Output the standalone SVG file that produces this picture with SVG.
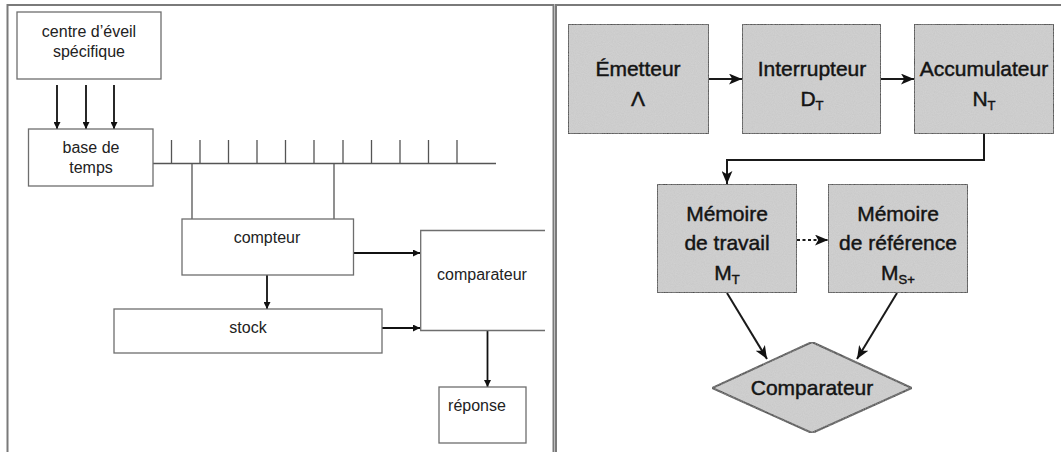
<svg xmlns="http://www.w3.org/2000/svg" width="1061" height="452" viewBox="0 0 1061 452">
<style>
.frame{fill:none;stroke:#7a7a7a;stroke-width:2}
.lbox{fill:#fff;stroke:#6e6e6e;stroke-width:1.3}
.lt{font-family:"Liberation Sans",Arial,sans-serif;font-size:16px;fill:#222;text-anchor:middle}
.ln{fill:none;stroke:#555;stroke-width:1.3}
.la{fill:none;stroke:#111;stroke-width:1.8}
.rbox{fill:#c8c8c8;stroke:#2a2a2a;stroke-width:2}
.rt{font-family:"Liberation Sans",Arial,sans-serif;font-size:21px;fill:#141414;stroke:#141414;stroke-width:0.45;text-anchor:middle}
.sub{font-size:13px}
.ra{fill:none;stroke:#1a1a1a;stroke-width:2}
</style>
<defs>
<marker id="ah" viewBox="0 0 10 10" refX="10" refY="5" markerWidth="7" markerHeight="7" orient="auto" markerUnits="userSpaceOnUse">
<path d="M0,0 L10,5 L0,10 z" fill="#111"/>
</marker>
<marker id="ahr" viewBox="0 0 12 10" refX="12" refY="5" markerWidth="13" markerHeight="11" orient="auto" markerUnits="userSpaceOnUse">
<path d="M0,0 L12,5 L0,10 L3,5 z" fill="#111"/>
</marker>
<filter id="grain" x="0" y="0" width="100%" height="100%">
<feTurbulence type="fractalNoise" baseFrequency="0.9" numOctaves="2" seed="3" result="n"/>
<feColorMatrix in="n" type="matrix" values="0 0 0 0 0.78  0 0 0 0 0.78  0 0 0 0 0.78  0 0 0 0.35 0" result="g"/>
<feComposite in="g" in2="SourceGraphic" operator="in" result="gi"/>
<feMerge><feMergeNode in="SourceGraphic"/><feMergeNode in="gi"/></feMerge>
</filter>
</defs>
<rect width="1061" height="452" fill="#fff"/>
<g id="frames">
<path class="frame" d="M7.5,453 V5 H553.5 V453"/>
<path class="frame" d="M556,453 V5 H1061"/>
</g>
<g id="connectors">
<line class="la" x1="57" y1="85" x2="57" y2="129" marker-end="url(#ah)"/>
<line class="la" x1="86" y1="85" x2="86" y2="129" marker-end="url(#ah)"/>
<line class="la" x1="114" y1="85" x2="114" y2="129" marker-end="url(#ah)"/>
<path class="ln" d="M153,163.5 H496 M171.5,140 V163.5 M200,140 V163.5 M228.5,140 V163.5 M257,140 V163.5 M285.5,140 V163.5 M314,140 V163.5 M343,140 V163.5 M371.5,140 V163.5 M400,140 V163.5 M428.5,140 V163.5 M457,140 V163.5 M192,163.5 V219 M334,163.5 V219"/>
<line class="la" x1="354" y1="253" x2="420" y2="253" marker-end="url(#ah)"/>
<line class="la" x1="267" y1="275" x2="267" y2="309" marker-end="url(#ah)"/>
<line class="la" x1="382" y1="328" x2="420" y2="328" marker-end="url(#ah)"/>
<line class="la" x1="487.5" y1="331" x2="487.5" y2="387" marker-end="url(#ah)"/>
<line class="ra" x1="709" y1="79" x2="742" y2="79" marker-end="url(#ahr)"/>
<line class="ra" x1="881" y1="79" x2="914" y2="79" marker-end="url(#ahr)"/>
<path class="ra" d="M984,134 V160 H727 V184" marker-end="url(#ahr)"/>
<line class="ra" x1="797" y1="240" x2="828" y2="240" stroke-dasharray="3,2.5" marker-end="url(#ahr)"/>
<line class="ra" x1="727" y1="293" x2="767" y2="359" marker-end="url(#ahr)"/>
<line class="ra" x1="897" y1="293" x2="857" y2="359" marker-end="url(#ahr)"/>
</g>
<g id="centre">
<rect class="lbox" x="17" y="12" width="144" height="67"/>
<text class="lt" x="89" y="37">centre d’éveil</text>
<text class="lt" x="89" y="57">spécifique</text>
</g>
<g id="base">
<rect class="lbox" x="28.5" y="129" width="124.5" height="57"/>
<text class="lt" x="91" y="153">base de</text>
<text class="lt" x="91" y="173">temps</text>
</g>
<g id="compteur">
<rect class="lbox" x="182" y="219" width="171.5" height="56"/>
<text class="lt" x="267" y="243">compteur</text>
</g>
<g id="stock">
<rect class="lbox" x="114" y="309" width="268" height="44"/>
<text class="lt" x="248" y="333">stock</text>
</g>
<g id="comparateur">
<path class="lbox" d="M545,230.5 H420.7 V330.5 H545"/>
<text class="lt" x="482" y="280">comparateur</text>
</g>
<g id="reponse">
<rect class="lbox" x="439" y="387" width="87" height="56"/>
<text class="lt" x="477" y="411">réponse</text>
</g>
<g id="emetteur">
<rect class="rbox" x="568" y="24" width="141" height="110" filter="url(#grain)"/>
<text class="rt" x="638" y="76">Émetteur</text>
<text class="rt" x="638" y="106">Λ</text>
</g>
<g id="interrupteur">
<rect class="rbox" x="742" y="24" width="139" height="110" filter="url(#grain)"/>
<text class="rt" x="812" y="76">Interrupteur</text>
<text class="rt" x="812" y="106">D<tspan class="sub" dy="4">T</tspan></text>
</g>
<g id="accumulateur">
<rect class="rbox" x="914" y="24" width="140" height="110" filter="url(#grain)"/>
<text class="rt" x="984" y="76">Accumulateur</text>
<text class="rt" x="984" y="106">N<tspan class="sub" dy="4">T</tspan></text>
</g>
<g id="memoire-travail">
<rect class="rbox" x="657" y="184" width="140" height="109" filter="url(#grain)"/>
<text class="rt" x="727" y="221">Mémoire</text>
<text class="rt" x="727" y="250">de travail</text>
<text class="rt" x="727" y="280">M<tspan class="sub" dy="4">T</tspan></text>
</g>
<g id="memoire-reference">
<rect class="rbox" x="828" y="184" width="140" height="109" filter="url(#grain)"/>
<text class="rt" x="898" y="221">Mémoire</text>
<text class="rt" x="898" y="250">de référence</text>
<text class="rt" x="898" y="280">M<tspan class="sub" dy="4">S+</tspan></text>
</g>
<g id="comparateur-r">
<polygon class="rbox" points="812,342 912,388 812,433 712,388" filter="url(#grain)"/>
<text class="rt" x="812" y="395">Comparateur</text>
</g>
</svg>
